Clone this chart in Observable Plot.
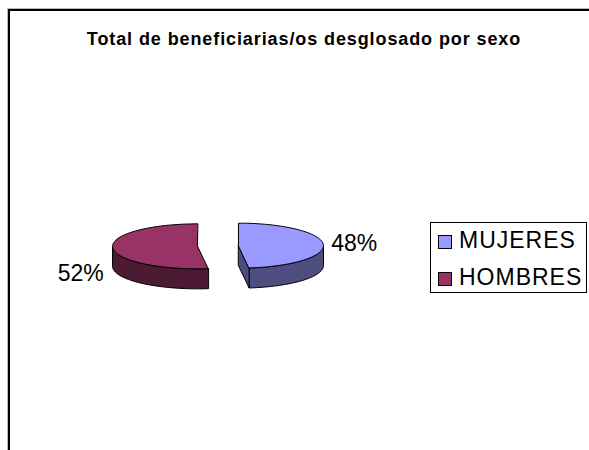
<!DOCTYPE html>
<html><head><meta charset="utf-8">
<script src="https://cdn.jsdelivr.net/npm/d3@7"></script>
<script src="https://cdn.jsdelivr.net/npm/@observablehq/plot@0.6"></script>
<style>
html,body{margin:0;padding:0;background:#fff;}
#wrap{position:relative;width:589px;height:450px;overflow:hidden;font-family:"Liberation Sans",Arial,sans-serif;color:#000;}
#wrap svg{position:absolute;left:0;top:0;}
#border{position:absolute;left:8px;top:9px;width:600px;height:460px;border-top:2px solid #000;border-left:2px solid #000;box-shadow:-1px -1px 0 #bbb;}
#title{position:absolute;left:0;width:608px;top:30px;line-height:18px;text-align:center;font-weight:bold;font-size:18px;letter-spacing:0.9px;white-space:nowrap;}
#legend{position:absolute;left:430px;top:222px;width:155px;height:69px;border:1px solid #000;background:#fff;}
.sw{position:absolute;left:7px;width:12px;height:12px;border:1px solid #000;}
.lt{position:absolute;left:28px;font-size:23px;line-height:23px;letter-spacing:1px;white-space:nowrap;}
</style></head>
<body>
<div id="wrap">
  <div id="border"></div>
  <div id="chart"></div>
  <div id="title">Total de beneficiarias/os desglosado por sexo</div>
  <div id="legend"></div>
</div>
<script>
// ---- data ----
const categories = ["MUJERES", "HOMBRES"];
const values = [48, 52];
const labels = ["48%", "52%"];
// ---- styles ----
const topColors = ["#9999FF", "#993366"];
const sideColors = ["#4D4D80", "#4D1A33"];

const cx0 = 217.5, cy0 = 245.5, rx = 85, ry = 22.5;
const explode = 0.241, depth = 20 / ry;

const data = categories.map((c, i) => ({category: c, value: values[i], label: labels[i], i}));
const arcs = d3.pie().sort(null).value(d => d.value).startAngle(0).endAngle(2 * Math.PI)(data);

const tops = [], sides = [], labelPts = [];
arcs.forEach(a => {
  const c = a.data.category;
  const mid = (a.startAngle + a.endAngle) / 2;
  const ex = explode * Math.sin(mid), ey = explode * Math.cos(mid);
  const steps = (s, e) => { const n = Math.max(2, Math.ceil((e - s) / (Math.PI / 90))); return d3.range(n + 1).map(j => s + (e - s) * j / n); };
  const P = (t, dz = 0) => ({x: ex + Math.sin(t), y: ey + Math.cos(t) - dz});
  [{x: ex, y: ey}, ...steps(a.startAngle, a.endAngle).map(t => P(t))]
    .forEach(p => tops.push({...p, key: c, face: "top"}));
  const s = Math.max(a.startAngle, Math.PI / 2), e = Math.min(a.endAngle, 3 * Math.PI / 2);
  if (e > s) {
    const ts = steps(s, e);
    [...ts.map(t => P(t)), ...ts.slice().reverse().map(t => P(t, depth))]
      .forEach(p => sides.push({...p, key: c, face: "outer"}));
  }
  if (Math.sin(a.endAngle) > 1e-6) {
    [{x: ex, y: ey}, P(a.endAngle), P(a.endAngle, depth), {x: ex, y: ey - depth}]
      .forEach(p => sides.push({...p, key: c, face: "end"}));
  }
  if (Math.sin(a.startAngle) < -1e-6) {
    [{x: ex, y: ey}, P(a.startAngle), P(a.startAngle, depth), {x: ex, y: ey - depth}]
      .forEach(p => sides.push({...p, key: c, face: "start"}));
  }
  labelPts.push({...P(mid), label: a.data.label, right: Math.sin(mid) >= 0});
});

const marks = [];
categories.forEach((c, i) => {
  marks.push(Plot.line(sides.filter(d => d.key === c), {x: "x", y: "y", z: "face", fill: sideColors[i], stroke: "#000", strokeWidth: 1, curve: "linear-closed"}));
});
categories.forEach((c, i) => {
  marks.push(Plot.line(tops.filter(d => d.key === c), {x: "x", y: "y", z: "face", fill: topColors[i], stroke: "#000", strokeWidth: 1, curve: "linear-closed"}));
});
const font = {fontSize: 23, fontFamily: "Liberation Sans, Arial, sans-serif", fill: "#000"};
marks.push(Plot.text(labelPts.filter(d => d.right), {x: "x", y: "y", text: "label", textAnchor: "start", dx: 8, dy: -1, ...font}));
marks.push(Plot.text(labelPts.filter(d => !d.right), {x: "x", y: "y", text: "label", textAnchor: "end", dx: -9, dy: 26, ...font}));

const chart = Plot.plot({
  width: 589, height: 450, margin: 0,
  style: {background: "transparent", overflow: "visible"},
  x: {axis: null, domain: [-1, 1], range: [cx0 - rx, cx0 + rx]},
  y: {axis: null, domain: [-1, 1], range: [cy0 + ry, cy0 - ry]},
  marks
});
document.getElementById("chart").appendChild(chart);

// legend
const leg = document.getElementById("legend");
categories.forEach((c, i) => {
  const sw = document.createElement("div");
  sw.className = "sw"; sw.style.top = (12 + i * 37) + "px"; sw.style.background = topColors[i];
  const t = document.createElement("div");
  t.className = "lt"; t.style.top = (6 + i * 37) + "px"; t.textContent = c;
  leg.appendChild(sw); leg.appendChild(t);
});
</script>
</body></html>
